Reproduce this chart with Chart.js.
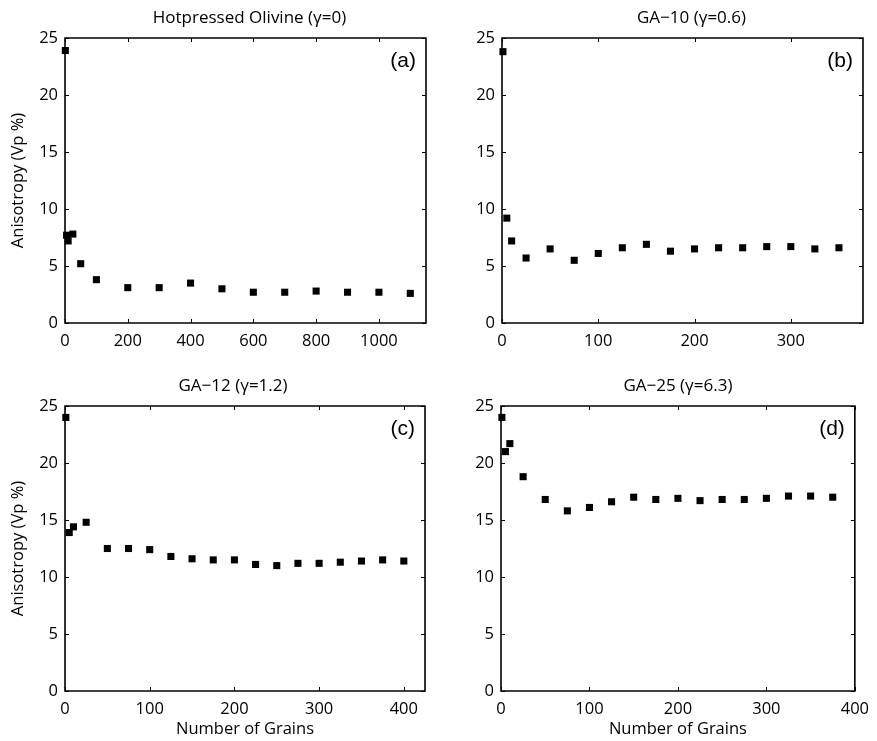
<!DOCTYPE html>
<html>
<head>
<meta charset="utf-8">
<script src="https://cdn.jsdelivr.net/npm/chart.js@4/dist/chart.umd.min.js"></script>
<style>
  html, body { margin: 0; padding: 0; background: #fff; }
  #figure { position: relative; width: 877px; height: 741px; }
  #figure canvas { position: absolute; }
</style>
</head>
<body>
<div id="figure">
  <canvas id="panelA"></canvas>
  <canvas id="panelB"></canvas>
  <canvas id="panelC"></canvas>
  <canvas id="panelD"></canvas>
</div>
<script>
// number of grains (x) and P-wave anisotropy in % (y) for each sample
const grainsA = [1, 5, 10, 25, 50, 100, 200, 300, 400, 500, 600, 700, 800, 900, 1000, 1100]
const anisoA = [23.9, 7.7, 7.2, 7.8, 5.2, 3.8, 3.1, 3.1, 3.5, 3.0, 2.7, 2.7, 2.8, 2.7, 2.7, 2.6]

const grainsB = [1, 5, 10, 25, 50, 75, 100, 125, 150, 175, 200, 225, 250, 275, 300, 325, 350]
const anisoB = [23.8, 9.2, 7.2, 5.7, 6.5, 5.5, 6.1, 6.6, 6.9, 6.3, 6.5, 6.6, 6.6, 6.7, 6.7, 6.5, 6.6]

const grainsC = [1, 5, 10, 25, 50, 75, 100, 125, 150, 175, 200, 225, 250, 275, 300, 325, 350, 375, 400]
const anisoC = [24.0, 13.9, 14.4, 14.8, 12.5, 12.5, 12.4, 11.8, 11.6, 11.5, 11.5, 11.1, 11.0, 11.2, 11.2, 11.3, 11.4, 11.5, 11.4]

const grainsD = [1, 5, 10, 25, 50, 75, 100, 125, 150, 175, 200, 225, 250, 275, 300, 325, 350, 375]
const anisoD = [24.0, 21.0, 21.7, 18.8, 16.8, 15.8, 16.1, 16.6, 17.0, 16.8, 16.9, 16.7, 16.8, 16.8, 16.9, 17.1, 17.1, 17.0]

const panelTitles = ['Hotpressed Olivine (\u03b3=0)', 'GA\u221210 (\u03b3=0.6)', 'GA\u221212 (\u03b3=1.2)', 'GA\u221225 (\u03b3=6.3)']
const panelTags = ['(a)', '(b)', '(c)', '(d)']
const xMaxes = [1150, 375, 425, 400]
const xSteps = [200, 100, 100, 100]
const yTicks = [0, 5, 10, 15, 20, 25]

const FONT = "'Open Sans', sans-serif"

// box around the plot, inward ticks on all four sides, panel title and tag
const framePlugin = {
  id: 'frame',
  afterDraw(chart, args, opts) {
    const { ctx, chartArea: a } = chart
    const xs = chart.scales.x
    const ys = chart.scales.y
    ctx.save()
    ctx.setLineDash([])
    ctx.strokeStyle = '#000'
    ctx.lineWidth = 1.6
    ctx.beginPath()
    ctx.moveTo(a.left, a.top)
    ctx.lineTo(a.right, a.top)
    ctx.lineTo(a.right, a.bottom)
    ctx.lineTo(a.left, a.bottom)
    ctx.closePath()
    ctx.stroke()

    ctx.lineWidth = 1
    ctx.beginPath()
    xs.ticks.forEach(t => {
      const px = Math.round(xs.getPixelForValue(t.value)) + 0.5
      ctx.moveTo(px, a.bottom); ctx.lineTo(px, a.bottom - 4)
      ctx.moveTo(px, a.top); ctx.lineTo(px, a.top + 4)
    })
    ys.ticks.forEach(t => {
      const py = Math.round(ys.getPixelForValue(t.value)) + 0.5
      ctx.moveTo(a.left, py); ctx.lineTo(a.left + 4, py)
      ctx.moveTo(a.right, py); ctx.lineTo(a.right - 4, py)
    })
    ctx.stroke()

    ctx.fillStyle = '#000'
    ctx.textBaseline = 'middle'
    ctx.textAlign = 'center'
    ctx.font = '17px ' + FONT
    ctx.fillText(opts.title, (a.left + a.right) / 2 + opts.titleShift, a.top - 20)

    ctx.textAlign = 'right'
    ctx.font = "21px 'Liberation Sans', Arial, sans-serif"
    ctx.fillText(opts.tag, a.right - 10, a.top + 23)
    ctx.restore()
  }
}

function buildPanel(props) {
  const canvas = document.getElementById(props.id)
  canvas.style.left = props.left + 'px'
  canvas.style.top = props.top + 'px'
  canvas.width = props.width
  canvas.height = props.height

  new Chart(canvas.getContext('2d'), {
    type: 'scatter',
    data: {
      datasets: [{
        data: props.xs.map((x, i) => ({ x: x, y: props.ys[i] })),
        pointStyle: 'rect',
        pointRadius: 5,
        pointHoverRadius: 5,
        borderWidth: 0,
        backgroundColor: '#000',
        borderColor: '#000',
        clip: false
      }]
    },
    options: {
      responsive: false,
      animation: false,
      events: [],
      layout: { padding: { left: 0, right: props.padRight, top: props.padTop, bottom: 0 } },
      plugins: {
        legend: { display: false },
        tooltip: { enabled: false },
        title: { display: false },
        frame: { title: props.title, tag: props.tag, titleShift: props.titleShift }
      },
      scales: {
        x: {
          type: 'linear',
          min: 0,
          max: props.xMax,
          grid: { display: false, drawTicks: false },
          border: { display: false },
          ticks: {
            stepSize: props.xStep,
            includeBounds: false,
            padding: 8,
            color: '#000',
            font: { family: FONT, size: 16.5 },
            maxRotation: 0,
            callback: value => String(value)
          },
          title: {
            display: props.xTitle,
            text: 'Number of Grains',
            color: '#000',
            font: { family: FONT, size: 16.5 },
            padding: { top: 0, bottom: 2 }
          },
          afterFit: scale => { scale.height = props.xAxisHeight }
        },
        y: {
          type: 'linear',
          min: 0,
          max: 25,
          grid: { display: false, drawTicks: false },
          border: { display: false },
          afterBuildTicks: scale => { scale.ticks = yTicks.map(v => ({ value: v })) },
          ticks: {
            padding: 7,
            color: '#000',
            font: { family: FONT, size: 16.5 }
          },
          title: {
            display: props.yTitle,
            text: 'Anisotropy (Vp %)',
            color: '#000',
            font: { family: FONT, size: 16.5 },
            padding: { top: 8, bottom: 0 }
          },
          afterFit: scale => { scale.width = props.yAxisWidth }
        }
      }
    },
    plugins: [framePlugin]
  })
}

const panels = [
  { id: 'panelA', left: 0, top: 0, width: 438, height: 370, padRight: 12, padTop: 38, xAxisHeight: 47, yAxisWidth: 65,
    xs: grainsA, ys: anisoA, xMax: xMaxes[0], xStep: xSteps[0], title: panelTitles[0], tag: panelTags[0], titleShift: 4, xTitle: false, yTitle: true },
  { id: 'panelB', left: 438, top: 0, width: 439, height: 370, padRight: 14, padTop: 38, xAxisHeight: 47, yAxisWidth: 64,
    xs: grainsB, ys: anisoB, xMax: xMaxes[1], xStep: xSteps[1], title: panelTitles[1], tag: panelTags[1], titleShift: 9, xTitle: false, yTitle: false },
  { id: 'panelC', left: 0, top: 370, width: 438, height: 371, padRight: 13, padTop: 36, xAxisHeight: 50, yAxisWidth: 65,
    xs: grainsC, ys: anisoC, xMax: xMaxes[2], xStep: xSteps[2], title: panelTitles[2], tag: panelTags[2], titleShift: -12, xTitle: true, yTitle: true },
  { id: 'panelD', left: 438, top: 370, width: 439, height: 371, padRight: 14, padTop: 36, xAxisHeight: 50, yAxisWidth: 63,
    xs: grainsD, ys: anisoD, xMax: xMaxes[3], xStep: xSteps[3], title: panelTitles[3], tag: panelTags[3], titleShift: 0, xTitle: true, yTitle: false }
]

panels.forEach(p => buildPanel(p))
</script>
</body>
</html>
